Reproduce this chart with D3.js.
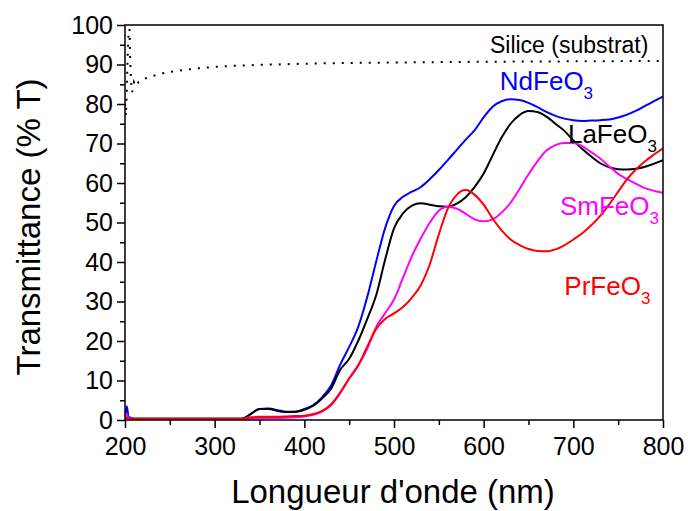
<!DOCTYPE html>
<html><head><meta charset="utf-8">
<script src="https://cdn.jsdelivr.net/npm/d3@7"></script>
<style>
html,body{margin:0;padding:0;background:#fff;}
text{font-family:"Liberation Sans",Arial,sans-serif;}
</style></head>
<body><div id="chart"></div>
<script>
const wavelengths = [200,202,204,210,250,300,330,340,350,360,370,380,390,400,410,420,430,440,450,460,470,480,490,500,510,520,530,540,550,560,570,580,590,600,610,620,630,640,650,660,670,680,690,700,710,720,730,740,750,760,770,780,790,800];
const ndFeO3 = [0.3,3.5,0.8,0.3,0.3,0.3,0.3,1.5,2.8,2.8,2.3,2.0,2.1,2.8,3.8,5.8,8.8,14,18.5,23.5,31,40,48.5,54.2,56.5,57.8,59,61,63.3,65.8,68.4,71,73.4,76.6,79.3,80.7,81.2,81,80.3,79.2,78,77,76.3,75.9,75.7,75.8,75.9,76.1,76.6,77.3,78.3,79.5,80.7,81.9];
const laFeO3 = [0.3,0.8,0.4,0.3,0.3,0.3,0.3,1.5,2.8,2.9,2.5,2.1,2.1,2.6,3.6,5.5,8,12.7,15.5,20,25.5,31.5,40.5,48.5,52.3,54.3,54.9,54.5,54.1,54,54.8,56.4,59,62.4,67,71.5,75,77.2,78.2,78,76.8,75,73.2,70.8,68.6,66.7,65,64,63.5,63.4,63.6,64.1,64.9,65.8];
const smFeO3 = [0.3,1.5,0.5,0.1,0.1,0.1,0.1,0.4,0.5,0.5,0.5,0.6,0.7,0.9,1.3,2.2,3.8,6.8,10.5,13.8,18,23.5,27,30.5,36,41.5,46,50,53,54,53.5,52.2,50.8,50.3,50.8,52.5,55,58.5,62.2,65.5,68.2,69.6,70.1,70.1,69.3,67.8,66.2,64.2,62.3,61,59.8,58.7,58,57.5];
const prFeO3 = [0.3,0.5,0.3,0.3,0.3,0.3,0.3,0.7,0.8,0.8,0.8,0.9,1.0,1.1,1.5,2.3,4,7,10.5,13.8,18.5,23,25.6,27,28.6,31,34.2,39.5,47,53.5,57,58.2,57,54.5,51,48,45.7,44.3,43.3,42.8,42.7,43.2,44.2,45.7,47.3,49.3,51.7,54.6,57.8,61,63.5,65.5,67.2,68.8];
const silicaWl = [200,201,202,202.5,203,203.5,204,205,205.5,206,206.5,207,208,209,210,212,215,220,230,240,250,265,280,300,325,350,400,450,500,600,700,800];
const silica = [80,77,83,88,92,95,98,99,94,90,87,85,83,84,85.5,84.5,85.5,86.3,87,87.7,88.1,88.6,89,89.4,89.7,89.9,90.2,90.4,90.5,90.7,90.8,90.9];
const xTicks = [200,300,400,500,600,700,800];
const yTicks = [0,10,20,30,40,50,60,70,80,90,100];
const seriesNames = ["NdFeO3","LaFeO3","SmFeO3","PrFeO3"];
const seriesColors = ["#0000ff","#000000","#ff00ff","#ff0000"];
const seriesValues = [ndFeO3, laFeO3, smFeO3, prFeO3];
// label anchor positions (nm, %T)
const labelPos = [[618,83.5],[694,70.1],[685,51.9],[690,31.6]];

const W=688,H=511, m={l:125,r:25,t:25,b:91};
const svg=d3.select("#chart").append("svg").attr("width",W).attr("height",H);
const x=d3.scaleLinear().domain([200,800]).range([m.l,W-m.r]);
const y=d3.scaleLinear().domain([0,100]).range([H-m.b,m.t]);

svg.append("defs").append("clipPath").attr("id","clip").append("rect")
  .attr("x",m.l).attr("y",m.t).attr("width",W-m.l-m.r).attr("height",H-m.t-m.b);

const g=svg.append("g").attr("clip-path","url(#clip)");
const line=d3.line().x(d=>x(d[0])).y(d=>y(d[1])).curve(d3.curveMonotoneX);

g.append("path").datum(silicaWl.map((w,i)=>[w,silica[i]]))
  .attr("d",d3.line().x(d=>x(d[0])).y(d=>y(d[1])))
  .attr("fill","none").attr("stroke","#000").attr("stroke-width",2)
  .attr("stroke-dasharray","2,7");

seriesValues.forEach((vals,k)=>{
  g.append("path").datum(wavelengths.map((w,i)=>[w,vals[i]]))
    .attr("d",line).attr("fill","none").attr("stroke",seriesColors[k])
    .attr("stroke-width",2).attr("stroke-linejoin","round");
});

// axes
const xAxis=d3.axisBottom(x).tickValues(xTicks).tickSize(8).tickPadding(9).tickFormat(d3.format("d"));
const xAxisMinor=d3.axisBottom(x).tickValues(d3.range(250,800,100)).tickSize(5).tickFormat("");
const yAxis=d3.axisLeft(y).tickValues(yTicks).tickSize(8).tickPadding(4).tickFormat(d3.format("d"));
const yAxisMinor=d3.axisLeft(y).tickValues(d3.range(5,100,10)).tickSize(5).tickFormat("");

function styleAxis(sel){
  sel.select(".domain").remove();
  sel.selectAll("line").attr("stroke","#000").attr("stroke-width",1.5);
  sel.selectAll("text").attr("font-size",25).attr("fill","#000").attr("font-family","Liberation Sans, Arial, sans-serif");
}
svg.append("g").attr("transform",`translate(0,${H-m.b})`).call(xAxis).call(styleAxis);
svg.append("g").attr("transform",`translate(0,${H-m.b})`).call(xAxisMinor).call(styleAxis);
svg.append("g").attr("transform",`translate(${m.l},0)`).call(yAxis).call(styleAxis);
svg.append("g").attr("transform",`translate(${m.l},0)`).call(yAxisMinor).call(styleAxis);

// frame
svg.append("rect").attr("x",m.l).attr("y",m.t).attr("width",W-m.l-m.r).attr("height",H-m.t-m.b)
  .attr("fill","none").attr("stroke","#000").attr("stroke-width",1.5);

// titles
svg.append("text").attr("x",(m.l+W-m.r)/2-1).attr("y",503).attr("text-anchor","middle")
  .attr("font-size",33).text("Longueur d'onde (nm)");
svg.append("text").attr("transform",`translate(40,227) rotate(-90)`).attr("text-anchor","middle")
  .attr("font-size",33).text("Transmittance (% T)");

// labels
svg.append("text").attr("x",x(607)).attr("y",y(92.9)).attr("font-size",23).text("Silice (substrat)");
seriesNames.forEach((n,k)=>{
  const t=svg.append("text").attr("x",x(labelPos[k][0])).attr("y",y(labelPos[k][1]))
    .attr("font-size",26).attr("fill",seriesColors[k]);
  t.append("tspan").text(n.slice(0,-1));
  t.append("tspan").attr("font-size",17).attr("dy",9).text(n.slice(-1));
});
</script></body></html>
